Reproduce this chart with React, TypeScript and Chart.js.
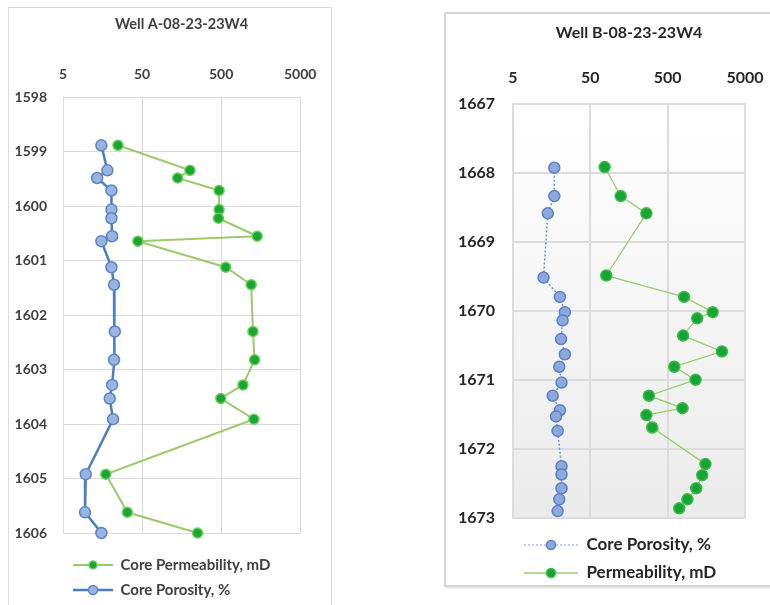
import React, { useEffect, useRef } from 'react';
import { Chart, registerables } from 'chart.js';

Chart.register(...registerables);

const FONT = 'Lato, "Open Sans", sans-serif';

// ---------- Shared x axis (log) tick labels ----------
const xTickValues = [5, 50, 500, 5000];

// ---------- Well A ----------
const wellATitle = 'Well A-08-23-23W4';
const wellADepthTicks = [1598, 1599, 1600, 1601, 1602, 1603, 1604, 1605, 1606];
const wellADepths = [
  1598.88, 1599.34, 1599.48, 1599.71, 1600.06, 1600.22, 1600.55, 1600.64, 1601.12,
  1601.44, 1602.3, 1602.82, 1603.28, 1603.53, 1603.91, 1604.92, 1605.62, 1606.0,
];
const wellAPermeability = [
  24.8, 202, 141, 472, 472, 463, 1431, 44.3, 572, 1202, 1264, 1327, 946, 495, 1300, 17.4, 32.6, 252,
];
const wellAPorosity = [
  15.3, 18.2, 13.5, 20.5, 20.5, 20.5, 20.9, 15.3, 20.5, 22.1, 22.6, 22.1, 20.9, 19.5, 21.5, 9.7, 9.5, 15.3,
];

// ---------- Well B ----------
const wellBTitle = 'Well B-08-23-23W4';
const wellBDepthTicks = [1667, 1668, 1669, 1670, 1671, 1672, 1673];
const wellBPorosityDepths = [
  1667.93, 1668.34, 1668.59, 1669.52, 1669.8, 1670.02, 1670.14, 1670.41, 1670.63, 1670.81,
  1671.04, 1671.23, 1671.44, 1671.53, 1671.74, 1672.25, 1672.37, 1672.57, 1672.73, 1672.9,
];
const wellBPorosity = [
  17.1, 17.1, 14.1, 12.4, 20.2, 23.4, 21.9, 20.9, 23.4, 19.8, 21.2, 16.3, 20.2, 18.0, 18.9, 21.2, 21.2,
  21.2, 19.8, 18.9,
];
const wellBPermDepths = [
  1667.92, 1668.34, 1668.59, 1669.49, 1669.8, 1670.02, 1670.11, 1670.36, 1670.59, 1670.81,
  1671.0, 1671.23, 1671.41, 1671.51, 1671.69, 1672.22, 1672.38, 1672.57, 1672.73, 1672.86,
];
const wellBPermeability = [
  76.5, 123.5, 265, 80.4, 815, 1908, 1205, 792, 2510, 608, 1147, 286, 776, 265, 315, 1538, 1397, 1170,
  899, 705,
];

type Series = {
  label: string;
  depths: number[];
  values: number[];
  lineColor: string;
  lineWidth: number;
  dash: number[];
  radius: number;
  fill: string;
  stroke: string;
  pointBorder: number;
  legendLineColor: string;
};

type PanelCfg = {
  title: string;
  titleBold: boolean;
  titleSize: number;
  titlePadTop: number;
  textColor: string;
  tickSize: number;
  tickBold: boolean;
  xTickPad: number;
  yTickPad: number;
  xAxisHeight: number;
  yAxisWidth: number;
  spacer: number;
  depthTicks: number[];
  series: Series[];
  padding: { left: number; right: number; top: number; bottom: number };
  legendSize: number;
  legendBold: boolean;
  legendPad: number;
  iconWidth: number;
  gridColor: string;
  gridWidth: number;
  gradient: boolean;
  canvas: { left: number; top: number; width: number; height: number };
  frame: React.CSSProperties;
};

function makeIcon(s: Series, w: number, h: number) {
  const c = document.createElement('canvas');
  c.width = w;
  c.height = h;
  const ctx = c.getContext('2d')!;
  ctx.strokeStyle = s.legendLineColor;
  ctx.lineWidth = s.lineWidth;
  ctx.setLineDash(s.dash);
  ctx.beginPath();
  ctx.moveTo(0, h / 2);
  ctx.lineTo(w, h / 2);
  ctx.stroke();
  ctx.setLineDash([]);
  ctx.beginPath();
  ctx.arc(w / 2, h / 2, s.radius - 1, 0, Math.PI * 2);
  ctx.fillStyle = s.fill;
  ctx.fill();
  ctx.lineWidth = s.pointBorder;
  ctx.strokeStyle = s.stroke;
  ctx.stroke();
  return c;
}

const bgPlugin = {
  id: 'plotBg',
  beforeDraw(chart: any, _args: any, opts: any) {
    if (!opts || !opts.enabled) return;
    const { ctx, chartArea } = chart;
    if (!chartArea) return;
    const g = ctx.createLinearGradient(0, chartArea.top, 0, chartArea.bottom);
    g.addColorStop(0, '#ffffff');
    g.addColorStop(1, '#ebebeb');
    ctx.save();
    ctx.fillStyle = g;
    ctx.fillRect(chartArea.left, chartArea.top, chartArea.right - chartArea.left, chartArea.bottom - chartArea.top);
    ctx.restore();
  },
};

function buildConfig(p: PanelCfg): any {
  const icons = p.series.map((s) => makeIcon(s, p.iconWidth, 14));
  const tickFont = { family: FONT, size: p.tickSize, weight: p.tickBold ? 'bold' : 'normal' };
  return {
    type: 'scatter',
    data: {
      datasets: p.series.map((s) => ({
        label: s.label,
        data: s.depths.map((d, i) => ({ x: s.values[i], y: d })),
        xAxisID: 'x',
        yAxisID: 'y',
        showLine: true,
        borderColor: s.lineColor,
        borderWidth: s.lineWidth,
        borderDash: s.dash,
        pointRadius: s.radius,
        pointHoverRadius: s.radius,
        pointBackgroundColor: s.fill,
        pointBorderColor: s.stroke,
        pointBorderWidth: s.pointBorder,
        tension: 0,
        clip: false,
      })),
    },
    options: {
      responsive: false,
      animation: false,
      events: [],
      layout: { padding: p.padding },
      plugins: {
        plotBg: { enabled: p.gradient },
        tooltip: { enabled: false },
        title: {
          display: true,
          text: p.title,
          fullSize: false,
          color: p.textColor,
          font: { family: FONT, size: p.titleSize, weight: p.titleBold ? 'bold' : 'normal', lineHeight: 1.2 },
          padding: { top: p.titlePadTop, bottom: 0 },
        },
        legend: {
          display: true,
          position: 'bottom',
          align: 'start',
          fullSize: false,
          labels: {
            usePointStyle: true,
            pointStyleWidth: p.iconWidth,
            padding: p.legendPad,
            color: p.textColor,
            font: { family: FONT, size: p.legendSize, weight: p.legendBold ? 'bold' : 'normal' },
            generateLabels: (chart: any) =>
              chart.data.datasets.map((ds: any, i: number) => ({
                text: ds.label,
                pointStyle: icons[i],
                datasetIndex: i,
                hidden: false,
                fontColor: p.textColor,
                lineWidth: 0,
                fillStyle: 'rgba(0,0,0,0)',
                strokeStyle: 'rgba(0,0,0,0)',
              })),
          },
        },
      },
      scales: {
        x: {
          type: 'logarithmic',
          position: 'top',
          min: xTickValues[0],
          max: xTickValues[xTickValues.length - 1],
          afterBuildTicks: (s: any) => {
            s.ticks = xTickValues.map((v) => ({ value: v }));
          },
          afterFit: (s: any) => {
            s.height = p.xAxisHeight;
          },
          ticks: {
            callback: (v: any) => String(v),
            autoSkip: false,
            maxRotation: 0,
            padding: p.xTickPad,
            color: p.textColor,
            font: tickFont,
          },
          grid: { color: p.gridColor, lineWidth: p.gridWidth, drawTicks: false },
          border: { color: p.gridColor, width: p.gridWidth },
        },
        y: {
          type: 'linear',
          reverse: true,
          min: p.depthTicks[0],
          max: p.depthTicks[p.depthTicks.length - 1],
          afterBuildTicks: (s: any) => {
            s.ticks = p.depthTicks.map((v) => ({ value: v }));
          },
          afterFit: (s: any) => {
            s.width = p.yAxisWidth;
          },
          ticks: {
            callback: (v: any) => String(v),
            autoSkip: false,
            padding: p.yTickPad,
            color: p.textColor,
            font: tickFont,
          },
          grid: { color: p.gridColor, lineWidth: p.gridWidth, drawTicks: false },
          border: { color: p.gridColor, width: p.gridWidth },
        },
        spacer: {
          type: 'linear',
          axis: 'x',
          position: 'bottom',
          display: true,
          ticks: { display: false },
          grid: { display: false },
          border: { display: false },
          afterFit: (s: any) => {
            s.height = p.spacer;
          },
        },
      },
    },
    plugins: [bgPlugin],
  };
}

const panelA: PanelCfg = {
  title: wellATitle,
  titleBold: true,
  titleSize: 14.5,
  titlePadTop: 8,
  textColor: '#404040',
  tickSize: 14,
  tickBold: true,
  xTickPad: 14.6,
  yTickPad: 16,
  xAxisHeight: 64,
  yAxisWidth: 54,
  spacer: 14.5,
  depthTicks: wellADepthTicks,
  padding: { left: 0, right: 30, top: 0, bottom: 0.5 },
  legendSize: 15,
  legendBold: true,
  legendPad: 10,
  iconWidth: 40,
  gridColor: '#d9d9d9',
  gridWidth: 1,
  gradient: false,
  canvas: { left: 9, top: 8, width: 322, height: 600 },
  frame: { left: 8, top: 7, width: 322, height: 620, border: '1px solid #d9d9d9' },
  series: [
    {
      label: 'Core Permeability, mD',
      depths: wellADepths,
      values: wellAPermeability,
      lineColor: '#9bc96b',
      legendLineColor: '#9bc96b',
      lineWidth: 2,
      dash: [],
      radius: 5,
      fill: '#19a733',
      stroke: '#6fcd5a',
      pointBorder: 1.5,
    },
    {
      label: 'Core Porosity, %',
      depths: wellADepths,
      values: wellAPorosity,
      lineColor: '#4a7ec2',
      legendLineColor: '#4a7ec2',
      lineWidth: 2.5,
      dash: [],
      radius: 5.5,
      fill: '#9bb3df',
      stroke: '#5b85c8',
      pointBorder: 1.5,
    },
  ],
};

const panelB: PanelCfg = {
  title: wellBTitle,
  titleBold: true,
  titleSize: 16,
  titlePadTop: 9.5,
  textColor: '#262626',
  tickSize: 16,
  tickBold: true,
  xTickPad: 16.4,
  yTickPad: 18,
  xAxisHeight: 60.8,
  yAxisWidth: 67,
  spacer: 7.5,
  depthTicks: wellBDepthTicks,
  padding: { left: 0, right: 31, top: 0, bottom: 2.5 },
  legendSize: 17,
  legendBold: true,
  legendPad: 11,
  iconWidth: 54,
  gridColor: '#dcdcdc',
  gridWidth: 2,
  gradient: true,
  canvas: { left: 446, top: 14, width: 334, height: 580 },
  frame: {
    left: 444,
    top: 12,
    width: 340,
    height: 571,
    border: '2px solid #d6d6d6',
    boxShadow: '1px 1px 2px rgba(0,0,0,0.15)',
  },
  series: [
    {
      label: 'Core Porosity, %',
      depths: wellBPorosityDepths,
      values: wellBPorosity,
      lineColor: '#6f93d2',
      legendLineColor: '#a9bde6',
      lineWidth: 1.5,
      dash: [2, 2],
      radius: 5.5,
      fill: '#8ca8dc',
      stroke: '#5a80c5',
      pointBorder: 1.5,
    },
    {
      label: 'Permeability, mD',
      depths: wellBPermDepths,
      values: wellBPermeability,
      lineColor: '#9ccb6c',
      legendLineColor: '#9ccb6c',
      lineWidth: 1.3,
      dash: [],
      radius: 5.5,
      fill: '#16a532',
      stroke: '#3fbb4b',
      pointBorder: 1.5,
    },
  ],
};

function Panel({ cfg }: { cfg: PanelCfg }) {
  const ref = useRef<HTMLCanvasElement>(null);
  useEffect(() => {
    if (!ref.current) return;
    const chart = new Chart(ref.current, buildConfig(cfg));
    return () => chart.destroy();
  }, [cfg]);
  const c = cfg.canvas;
  return (
    <>
      <div style={{ position: 'absolute', boxSizing: 'content-box', background: '#fff', ...cfg.frame }} />
      <canvas
        ref={ref}
        width={c.width}
        height={c.height}
        style={{ position: 'absolute', left: c.left, top: c.top, width: c.width, height: c.height }}
      />
    </>
  );
}

export default function App() {
  return (
    <div
      style={{
        position: 'absolute',
        left: 0,
        top: 0,
        width: 770,
        height: 605,
        overflow: 'hidden',
        background: '#fff',
      }}
    >
      <Panel cfg={panelA} />
      <Panel cfg={panelB} />
    </div>
  );
}
